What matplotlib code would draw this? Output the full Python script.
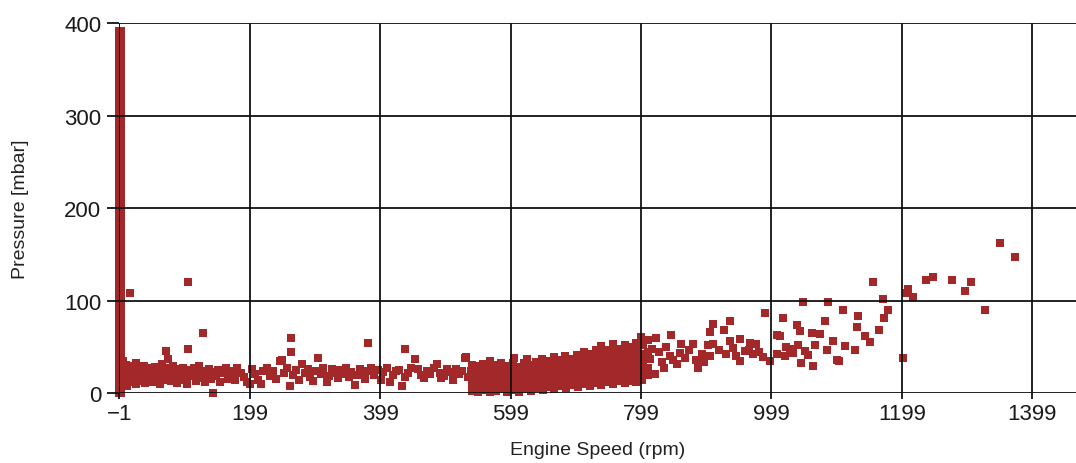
import matplotlib
matplotlib.use("Agg")
import matplotlib.pyplot as plt

# vertical run of samples logged while the engine was stopped (around -1 rpm)
spike_rpm_a = -1
spike_rpm_b = 1
spike_mbar = [0, 3, 6, 9, 12, 16, 19, 22, 25, 28, 31, 35, 38, 41, 44, 47, 50,
              54, 57, 60, 63, 66, 70, 73, 76, 79, 82, 86, 89, 92, 95, 98, 102,
              105, 108, 111, 114, 118, 121, 124, 127, 130, 134, 137, 140, 143,
              146, 150, 153, 156, 159, 162, 166, 169, 172, 175, 178, 182, 185,
              188, 191, 194, 198, 201, 204, 207, 210, 214, 217, 220, 223, 226,
              230, 233, 236, 239, 242, 246, 249, 252, 255, 258, 262, 265, 268,
              271, 274, 278, 281, 284, 287, 290, 294, 297, 300, 303, 306, 310,
              313, 316, 319, 322, 326, 329, 332, 335, 338, 342, 345, 348, 351,
              354, 358, 361, 364, 367, 370, 374, 377, 380, 383, 386, 389, 391]

# low speed band, 0 - 540 rpm
low_pts = [
    (4, 35), (5, 12), (6, 28), (8, 20), (9, 31), (10, 8), (12, 24), (14, 16),
    (15, 108), (16, 30), (18, 12), (20, 26), (22, 19), (24, 33), (25, 10),
    (27, 22), (29, 28), (31, 14), (33, 25), (35, 18), (37, 30), (39, 11),
    (41, 22), (43, 27), (45, 16), (47, 24), (49, 20), (51, 12), (53, 29),
    (55, 23), (57, 17), (59, 26), (61, 10), (63, 21), (65, 32), (67, 15),
    (69, 24), (71, 46), (72, 19), (74, 37), (76, 27), (78, 13), (80, 22),
    (82, 30), (84, 18), (86, 24), (88, 11), (90, 26), (92, 20), (94, 15),
    (96, 28), (98, 22), (100, 17), (103, 10), (105, 48), (105, 120), (107, 25),
    (110, 19), (113, 27), (116, 14), (118, 22), (121, 30), (124, 17), (127, 65),
    (127, 24), (130, 12), (133, 21), (136, 26), (139, 16), (143, 0), (143, 23),
    (147, 19), (150, 25), (154, 12), (158, 22), (162, 27), (166, 16), (170, 24),
    (174, 20), (176, 15), (180, 27), (185, 22), (190, 18), (195, 12), (199, 10),
    (202, 26), (207, 21), (211, 15), (217, 10), (220, 24), (225, 28), (230, 19),
    (235, 24), (240, 16), (245, 35), (249, 36), (252, 22), (256, 27), (261, 8),
    (263, 45), (263, 60), (266, 20), (270, 25), (274, 15), (279, 32), (283, 22),
    (288, 26), (292, 18), (296, 14), (300, 24), (304, 38), (308, 21), (312, 27),
    (317, 12), (321, 19), (325, 26), (329, 22), (334, 17), (338, 25), (342, 21),
    (347, 27), (351, 18), (355, 23), (360, 9), (364, 20), (368, 26), (372, 22),
    (376, 16), (381, 54), (381, 24), (385, 28), (390, 20), (395, 25), (400, 15),
    (404, 23), (409, 28), (414, 12), (418, 20), (423, 24), (428, 25), (432, 8),
    (437, 48), (437, 18), (442, 22), (447, 27), (452, 37), (457, 26), (461, 20),
    (466, 17), (471, 24), (476, 21), (481, 28), (486, 32), (490, 22), (493, 17),
    (497, 19), (502, 26), (507, 23), (511, 15), (516, 26), (520, 21), (525, 24),
    (529, 38), (531, 39), (533, 18),
]

# idle / low load cluster, 540 - 810 rpm
idle_pts = [
    (540, 3), (540, 10), (541, 17), (539, 24), (540, 31),
    (549, 2), (548, 9), (550, 16), (549, 23), (548, 30),
    (558, 4), (557, 11), (559, 18), (558, 25), (557, 32),
    (567, 2), (566, 8), (568, 15), (567, 22), (566, 29), (568, 35),
    (576, 3), (577, 10), (575, 17), (576, 24), (577, 31),
    (585, 5), (584, 12), (586, 19), (585, 26), (584, 33),
    (594, 2), (595, 9), (593, 16), (594, 23), (595, 30),
    (603, 4), (602, 11), (604, 18), (603, 25), (602, 33), (604, 38),
    (612, 2), (613, 8), (611, 15), (612, 22), (613, 29),
    (621, 5), (620, 12), (622, 19), (621, 26), (620, 33), (624, 37),
    (630, 3), (631, 10), (629, 17), (630, 24), (631, 31),
    (639, 6), (638, 13), (640, 20), (639, 27), (638, 34),
    (648, 4), (649, 11), (647, 18), (648, 25), (649, 32), (647, 37),
    (657, 7), (656, 14), (658, 21), (657, 28), (656, 35),
    (666, 5), (667, 12), (665, 19), (666, 26), (667, 33), (665, 39),
    (675, 8), (674, 15), (676, 22), (675, 29), (674, 36),
    (684, 6), (685, 13), (683, 20), (684, 27), (685, 34), (683, 41),
    (693, 9), (692, 16), (694, 23), (693, 30), (692, 37),
    (702, 7), (703, 14), (701, 21), (702, 28), (703, 35), (701, 42),
    (711, 10), (710, 17), (712, 24), (711, 31), (710, 38), (712, 45),
    (720, 8), (721, 15), (719, 22), (720, 29), (721, 36), (719, 43),
    (729, 11), (728, 18), (730, 25), (729, 32), (728, 39), (730, 47),
    (738, 9), (739, 16), (737, 23), (738, 30), (739, 37), (737, 44), (738, 51),
    (747, 12), (746, 19), (748, 26), (747, 33), (746, 40), (748, 47),
    (756, 10), (757, 17), (755, 24), (756, 31), (757, 38), (755, 45), (756, 53),
    (765, 13), (764, 20), (766, 27), (765, 34), (764, 41), (766, 48),
    (774, 11), (775, 18), (773, 25), (774, 32), (775, 39), (773, 46), (774, 52),
    (783, 14), (782, 21), (784, 28), (783, 35), (782, 42), (784, 50),
    (792, 12), (793, 19), (791, 26), (792, 33), (793, 40), (791, 47), (792, 55),
    (801, 15), (800, 22), (802, 29), (801, 36), (800, 43), (802, 52), (799, 61),
    (810, 20), (809, 28), (811, 37), (810, 45), (809, 58),
]

# part load, 810 rpm and up
high_pts = [
    (813, 37), (816, 48), (820, 21), (822, 60), (827, 45), (831, 34), (834, 27),
    (838, 50), (843, 41), (845, 63), (848, 36), (854, 32), (858, 44), (861, 53),
    (866, 38), (872, 47), (879, 53), (883, 36), (887, 28), (892, 43), (896, 34),
    (902, 52), (905, 41), (905, 66), (910, 75), (910, 53), (918, 47), (926, 69),
    (930, 43), (935, 57), (935, 78), (940, 49), (944, 40), (951, 59), (951, 35),
    (958, 46), (964, 47), (966, 55), (970, 43), (976, 53), (980, 45), (986, 39),
    (989, 87), (997, 35), (1007, 63), (1007, 43), (1012, 62), (1017, 81),
    (1020, 40), (1022, 50), (1028, 48), (1032, 44), (1038, 74), (1040, 52),
    (1043, 68), (1045, 33), (1048, 99), (1050, 46), (1055, 42), (1061, 65),
    (1062, 30), (1066, 52), (1073, 64), (1081, 78), (1084, 47), (1086, 99),
    (1094, 57), (1099, 36), (1102, 35), (1108, 90), (1112, 51), (1127, 47),
    (1130, 72), (1132, 84), (1142, 62), (1150, 56), (1155, 120), (1164, 69),
    (1170, 102), (1172, 81), (1178, 90), (1200, 38), (1205, 108), (1209, 113),
    (1216, 104), (1236, 123), (1246, 126), (1276, 123), (1296, 111),
    (1305, 120), (1326, 90), (1349, 162), (1372, 147),
]

x_ticks = [-1, 199, 399, 599, 799, 999, 1199, 1399]
y_ticks = [0, 100, 200, 300, 400]

rpm = [spike_rpm_a] * len(spike_mbar) + [spike_rpm_b] * len(spike_mbar)
mbar = spike_mbar + spike_mbar
for pts in (low_pts, idle_pts, high_pts):
    rpm += [p[0] for p in pts]
    mbar += [p[1] for p in pts]

plt.rcParams['font.family'] = ['Liberation Sans', 'DejaVu Sans']

fig = plt.figure(figsize=(10.76, 4.64), dpi=100)
ax = fig.add_axes([0.1109, 0.1498, 0.8891, 0.7985])

ax.plot(rpm, mbar, 's', color='#a3282a', markersize=5.8, markeredgewidth=0,
        clip_on=False, zorder=2)

ax.set_xlim(-1, 1466)
ax.set_ylim(0, 400)
ax.set_xticks(x_ticks)
ax.set_yticks(y_ticks)
ax.grid(True, color='#111111', linewidth=1.3)
ax.set_axisbelow(False)
for s in ax.spines.values():
    s.set_visible(False)
ax.axvline(-1, color='#111111', linewidth=1.3, zorder=3)

ax.tick_params(axis='x', length=4, width=1.3, color='#111111', pad=3,
               labelsize=16, labelcolor='#1a1a1a')
ax.tick_params(axis='y', length=9, width=1.3, color='#111111', pad=4,
               labelsize=16, labelcolor='#1a1a1a')

ax.set_xlabel('Engine Speed (rpm)', fontsize=14, color='#222222')
ax.set_ylabel('Pressure [mbar]', fontsize=14, color='#222222')
ax.xaxis.set_label_coords(0.5, -0.1525)
ax.xaxis.label.set_va('center')
ax.yaxis.set_label_coords(-0.1038, 0.5)
ax.yaxis.label.set_va('center')

fig.savefig('out.png', dpi=100)
